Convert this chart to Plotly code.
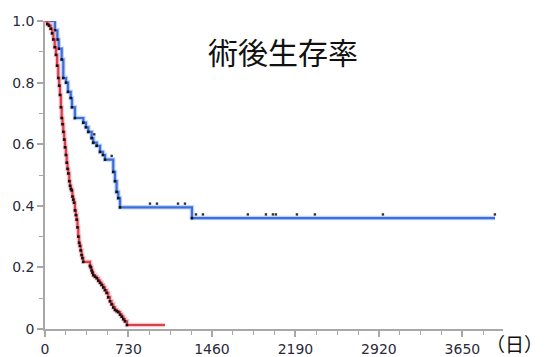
import plotly.graph_objects as go

# Blue group (survival after surgery)
blue_t = [0, 87, 108, 120, 146, 160, 184, 201, 225, 236, 262, 335, 358, 379, 408, 422,
          452, 481, 507, 525, 597, 612, 626, 641, 656, 1285, 3935]
blue_s = [1.0, 0.97, 0.94, 0.91, 0.875, 0.815, 0.80, 0.77, 0.75, 0.72, 0.685, 0.67, 0.655,
          0.64, 0.62, 0.605, 0.595, 0.575, 0.565, 0.55, 0.51, 0.48, 0.445, 0.425, 0.395, 0.36, 0.36]
blue_cens_t = [431, 583, 918, 979, 1163, 1224, 1320, 1381, 1774, 1932, 1993, 2019, 2203,
               2360, 2955, 3934]
blue_cens_s = [0.62, 0.55, 0.395, 0.395, 0.395, 0.395, 0.36, 0.36, 0.36, 0.36, 0.36, 0.36,
               0.36, 0.36, 0.36, 0.36]

# Red group
red_t = [0, 20, 35, 50, 62, 73, 85, 96, 106, 116, 124, 131, 139, 146, 153, 160, 168, 175,
         183, 190, 197, 204, 212, 219, 226, 233, 240, 247, 254, 262, 270, 277, 284, 291, 298,
         305, 312, 320, 327, 335, 393, 400, 408, 415, 422, 437, 452, 466, 481, 495, 510, 524,
         539, 553, 568, 582, 597, 612, 627, 641, 656, 671, 685, 699, 717, 1049]
red_s = [1.0, 0.99, 0.985, 0.975, 0.96, 0.94, 0.915, 0.89, 0.855, 0.815, 0.79, 0.76, 0.72,
         0.685, 0.665, 0.64, 0.615, 0.59, 0.565, 0.54, 0.52, 0.505, 0.48, 0.465, 0.455, 0.45,
         0.43, 0.42, 0.41, 0.385, 0.37, 0.355, 0.33, 0.30, 0.28, 0.27, 0.255, 0.24, 0.23,
         0.218, 0.205, 0.2, 0.19, 0.183, 0.175, 0.17, 0.165, 0.157, 0.15, 0.143, 0.135, 0.126,
         0.117, 0.103, 0.09, 0.08, 0.07, 0.062, 0.058, 0.055, 0.047, 0.04, 0.032, 0.025, 0.013,
         0.013]

x_ticks = [0, 730, 1460, 2190, 2920, 3650]
title_text = "術後生存率"
unit_text = "（日）"

BLUE = "#3b6fdc"
BLUE_HALO = "rgba(120,160,240,0.45)"
RED = "#d8404f"
RED_HALO = "rgba(240,130,140,0.45)"

fig = go.Figure()

for t, s, c, halo in [(blue_t, blue_s, BLUE, BLUE_HALO), (red_t, red_s, RED, RED_HALO)]:
    fig.add_trace(go.Scatter(x=t, y=s, mode="lines", line=dict(shape="hv", color=halo, width=4.5),
                             cliponaxis=False, hoverinfo="skip", showlegend=False))
    fig.add_trace(go.Scatter(x=t, y=s, mode="lines", line=dict(shape="hv", color=c, width=2.2),
                             cliponaxis=False, showlegend=False))
    fig.add_trace(go.Scatter(x=t[1:-1], y=s[1:-1], mode="markers",
                             marker=dict(color="#111111", size=2.6, symbol="square"),
                             cliponaxis=False, showlegend=False))

cens_offset = 0.012
fig.add_trace(go.Scatter(x=blue_cens_t, y=[v + cens_offset for v in blue_cens_s], mode="markers",
                         marker=dict(color="#333333", size=2.4, symbol="square"),
                         cliponaxis=False, showlegend=False))

axis_color = "#a8a8a8"
tick_font = dict(family="DejaVu Sans", size=14, color="#2a2a3a")
fig.update_xaxes(range=[0, 4005], tickmode="array", tickvals=x_ticks,
                 ticktext=[str(v) for v in x_ticks], automargin=False,
                 showline=True, linecolor=axis_color, linewidth=1.5,
                 ticks="outside", ticklen=6, tickcolor=axis_color, tickwidth=1.5,
                 showgrid=False, zeroline=False, tickfont=tick_font,
                 minor=dict(tick0=0, dtick=182.5, ticks="outside", ticklen=4,
                            tickcolor=axis_color, tickwidth=1.2, showgrid=False))
fig.update_yaxes(range=[0, 1.0], tickmode="linear", tick0=0, dtick=0.2, tickformat=".1f",
                 labelalias={"0.0": "0"}, automargin=False,
                 showline=True, linecolor=axis_color, linewidth=1.5,
                 ticks="outside", ticklen=6, tickcolor=axis_color, tickwidth=1.5,
                 showgrid=False, zeroline=False, tickfont=tick_font,
                 minor=dict(tick0=0, dtick=0.1, ticks="outside", ticklen=4,
                            tickcolor=axis_color, tickwidth=1.2, showgrid=False))

fig.add_annotation(text=title_text, xref="paper", yref="paper",
                   x=(283 - 45) / 458, y=(329 - 51) / 308, xanchor="center", yanchor="middle",
                   showarrow=False, font=dict(family="Noto Sans CJK JP", size=30, color="#111111"))
fig.add_annotation(text=unit_text, xref="paper", yref="paper",
                   x=(514 - 45) / 458, y=(329 - 343) / 308, xanchor="center", yanchor="middle",
                   showarrow=False, font=dict(family="Noto Sans CJK JP", size=19, color="#111111"))

fig.update_layout(width=548, height=357, margin=dict(l=45, r=45, t=21, b=28),
                  plot_bgcolor="white", paper_bgcolor="white")

fig.write_html("out.html", config={"displayModeBar": False},
               post_script="document.body.style.margin='0';"
                           "document.documentElement.style.overflow='hidden';")
